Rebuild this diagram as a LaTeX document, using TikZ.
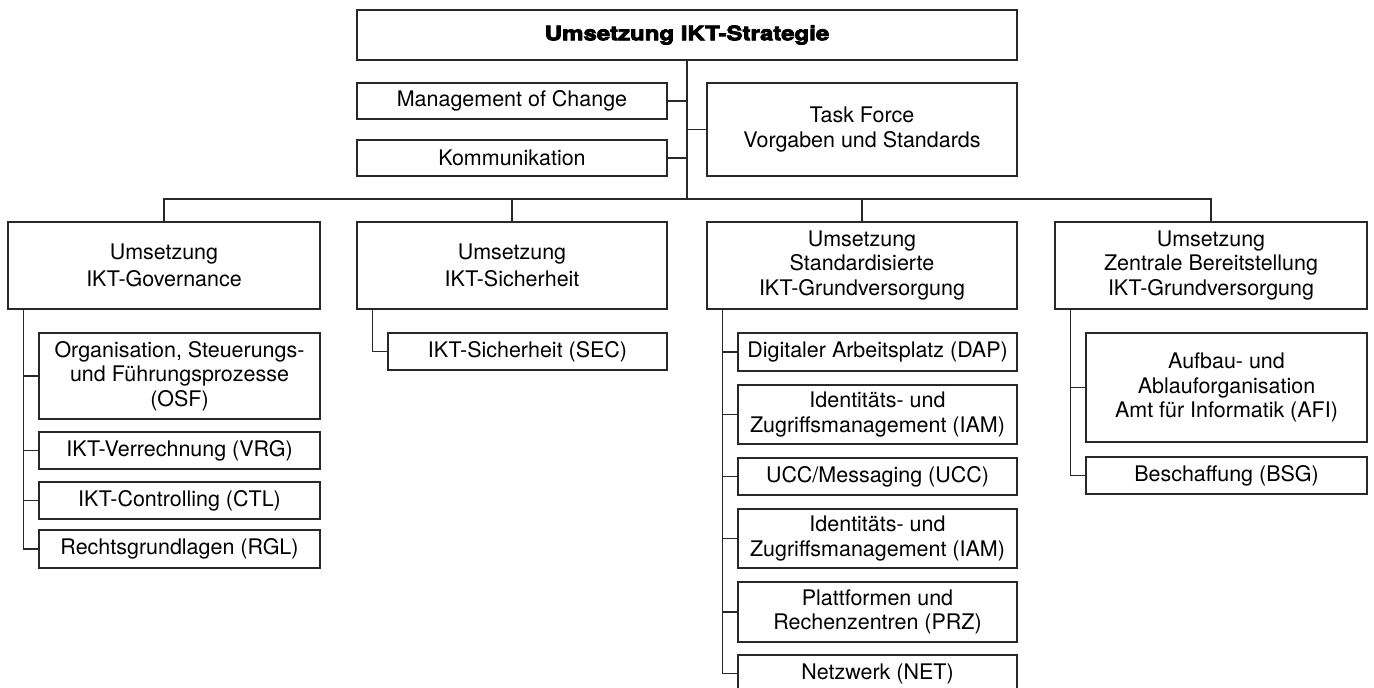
\documentclass[tikz,border=0pt]{standalone}
\usepackage{fontspec}
\setmainfont{TeX Gyre Heros}
\newfontfamily\heavyfont[Extension=.otf,FakeStretch=1.2,FakeBold=4]{texgyreheros-bold}
\definecolor{lc}{RGB}{40,40,40}
\newcommand{\bx}[6]{\node[box,minimum width={(#4-#2)*0.75pt},minimum height={(#5-#3)*0.75pt}] (#1) at ({(#2+#4)/2},{(#3+#5)/2}) {#6};}
\tikzset{
  box/.style={draw=lc,line width=0.9pt,inner sep=0pt,align=center,fill=white,
    font=\fontsize{16.1}{18.5}\selectfont},
  conn/.style={draw=lc,line width=0.9pt}
}
\begin{document}
\begin{tikzpicture}[x=0.75pt,y=-0.75pt]
\useasboundingbox (0,0) rectangle (1374,688);
\clip (0,0) rectangle (1374,688);
% top level
\bx{T}{357}{10}{1017}{60}{{\heavyfont\fontsize{15}{17}\selectfont Umsetzung IKT-Strategie}}
\bx{M}{357}{83}{667}{119}{Management of Change}
\bx{K}{357}{140}{667}{176}{Kommunikation}
\bx{TF}{707}{83}{1017}{176}{Task Force\\Vorgaben und Standards}
% columns
\bx{G}{8}{222}{320}{309}{\raisebox{-3pt}{\shortstack{Umsetzung\\[2pt]IKT-Governance}}}
\bx{S}{357}{222}{667}{309}{\raisebox{-3pt}{\shortstack{Umsetzung\\[2pt]IKT-Sicherheit}}}
\bx{D}{707}{222}{1017}{309}{Umsetzung\\Standardisierte\\IKT-Grundversorgung}
\bx{Z}{1055}{222}{1367}{309}{Umsetzung\\Zentrale Bereitstellung\\IKT-Grundversorgung}
% governance
\bx{OSF}{39}{333}{320}{419}{Organisation, Steuerungs-\\und Führungsprozesse\\(OSF)}
\bx{VRG}{39}{432}{320}{469}{IKT-Verrechnung (VRG)}
\bx{CTL}{39}{482}{320}{519}{IKT-Controlling (CTL)}
\bx{RGL}{39}{530}{320}{568}{Rechtsgrundlagen (RGL)}
% sicherheit
\bx{SEC}{388}{333}{667}{370}{IKT-Sicherheit (SEC)}
% standardisierte
\bx{DAP}{738}{333}{1017}{371}{Digitaler Arbeitsplatz (DAP)}
\bx{IAMa}{738}{385}{1017}{444}{Identitäts- und\\Zugriffsmanagement (IAM)}
\bx{UCC}{738}{458}{1017}{495}{UCC/Messaging (UCC)}
\bx{IAMb}{738}{509}{1017}{568}{Identitäts- und\\Zugriffsmanagement (IAM)}
\bx{PRZ}{738}{582}{1017}{642}{Plattformen und\\Rechenzentren (PRZ)}
\bx{NET}{738}{655}{1017}{692}{Netzwerk (NET)}
% zentrale
\bx{AFI}{1086}{333}{1367}{442}{Aufbau- und\\Ablauforganisation\\Amt für Informatik (AFI)}
\bx{BSG}{1086}{457}{1367}{494}{Beschaffung (BSG)}
% connectors top
\coordinate (bus) at (687,199);
\draw[conn] (T.south) -- (bus);
\draw[conn] (M.east) -- (M.east -| T.south);
\draw[conn] (K.east) -- (K.east -| T.south);
\draw[conn] (TF.west) -- (TF.west -| T.south);
\draw[conn] (G.north) |- (bus) -| (Z.north);
\draw[conn] (S.north) -- (S.north |- bus);
\draw[conn] (D.north) -- (D.north |- bus);
% sub lists
\draw[conn] ([xshift=12pt]G.south west) |- (RGL.west);
\foreach \n in {OSF,VRG,CTL} \draw[conn] (\n.west) -- ++(-15,0);
\draw[conn] ([xshift=12pt]S.south west) |- (SEC.west);
\draw[conn] ([xshift=12pt]D.south west) |- (NET.west);
\foreach \n in {DAP,IAMa,UCC,IAMb,PRZ} \draw[conn] (\n.west) -- ++(-15,0);
\draw[conn] ([xshift=12pt]Z.south west) |- (BSG.west);
\draw[conn] (AFI.west) -- ++(-15,0);
\end{tikzpicture}
\end{document}
